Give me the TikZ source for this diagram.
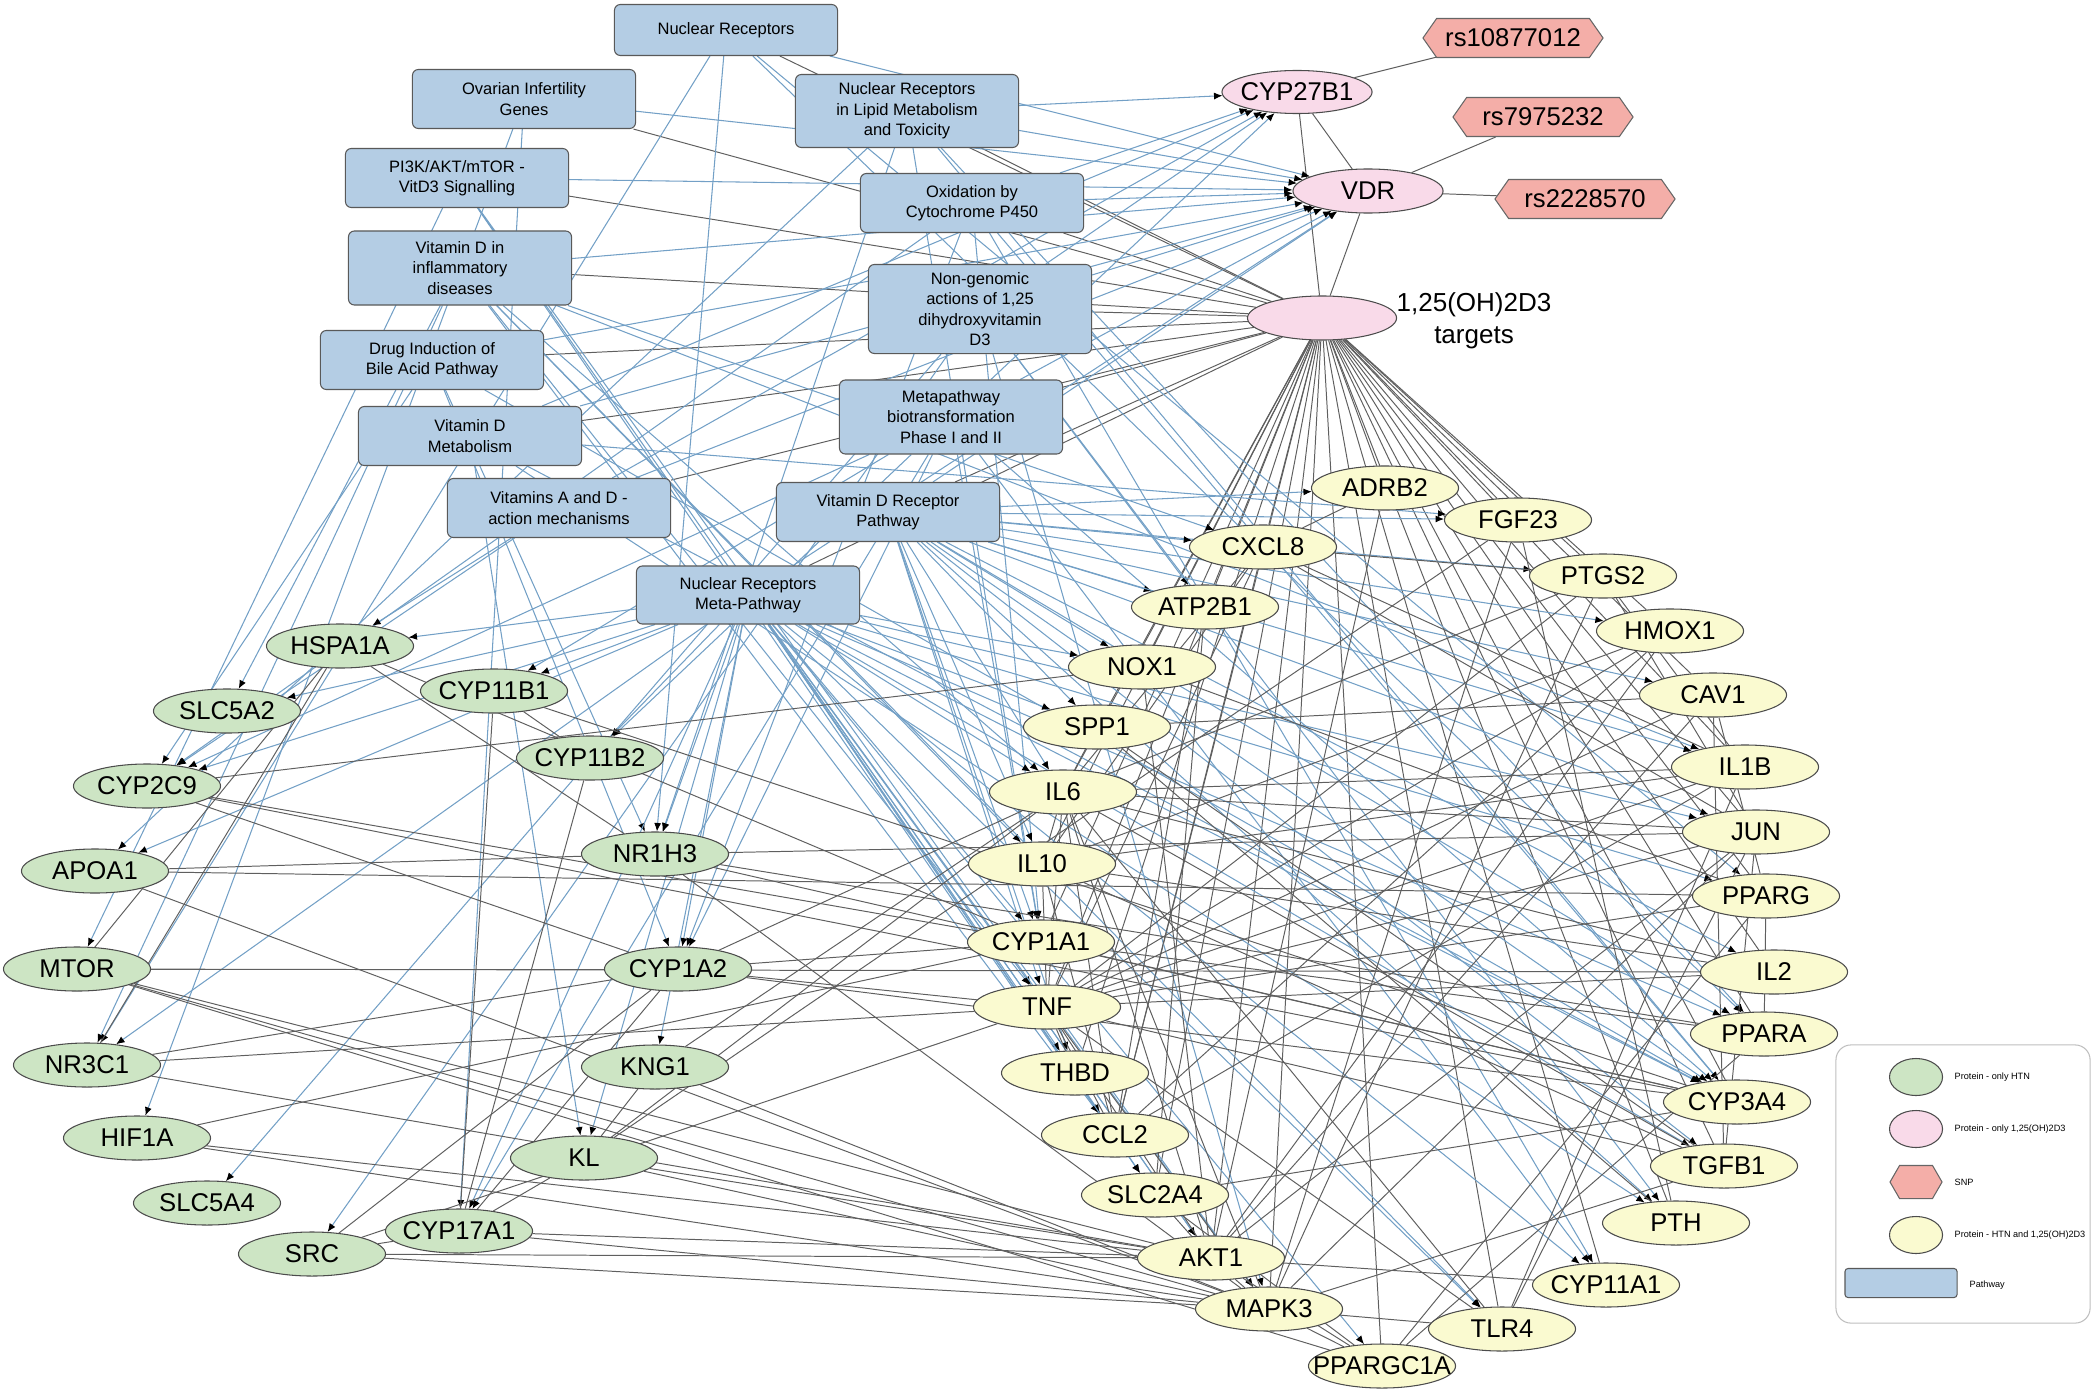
\documentclass[tikz,border=0pt]{standalone}
\usepackage{fontspec}
\setmainfont{Liberation Sans}
\usetikzlibrary{shapes.geometric,shapes.symbols,arrows.meta,backgrounds}

\definecolor{pwblue}{RGB}{180,205,228}
\definecolor{htngreen}{RGB}{205,229,196}
\definecolor{vitdpink}{RGB}{249,218,233}
\definecolor{bothyellow}{RGB}{250,250,208}
\definecolor{snpred}{RGB}{244,174,168}
\definecolor{linkblue}{RGB}{115,160,198}
\definecolor{linkgray}{RGB}{95,95,95}

\newcommand{\genefont}{\fontsize{7.3}{8.5}\selectfont}
\newcommand{\pwfont}{\fontsize{4.7}{5.8}\selectfont}
\newcommand{\keyfont}{\fontsize{2.6}{3.1}\selectfont}

\tikzset{
  gene/.style={ellipse, draw=black!70, line width=0.3pt, minimum width=1.47cm, minimum height=0.44cm,
    inner sep=0pt, font=\genefont,
    execute at begin node={\hbox to 0pt\bgroup\hss}, execute at end node={\hss\egroup}},
  htn/.style={gene, fill=htngreen},
  both/.style={gene, fill=bothyellow},
  vitd/.style={gene, fill=vitdpink},
  snp/.style={shape=signal, signal to=east and west, signal pointer angle=110, draw=black!60,
    line width=0.3pt, fill=snpred, minimum width=1.8cm, minimum height=0.39cm, inner sep=0pt, font=\genefont,
    execute at begin node={\hbox to 0pt\bgroup\hss}, execute at end node={\hss\egroup}},
  pathway/.style={rectangle, rounded corners=0.06cm, draw=black!65, line width=0.3pt, fill=pwblue,
    minimum width=2.23cm, minimum height=0.59cm, align=center, font=\pwfont, inner sep=1pt},
  ppi/.style={draw=linkgray, line width=0.28pt},
  pwlink/.style={draw=linkblue, line width=0.3pt, -{Latex[length=2.4pt,width=2pt,black]}},
}

\begin{document}
\begin{tikzpicture}[x=0.01cm,y=-0.01cm]
\useasboundingbox (0,0) rectangle (2092,1394);

%% pathways
\node[pathway, minimum height=0.51cm] (nr) at (726,30) {Nuclear Receptors};
\node[pathway] (ovar) at (524,99) {Ovarian Infertility\\Genes};
\node[pathway, minimum height=0.73cm] (lipid) at (907,111) {Nuclear Receptors\\in Lipid Metabolism\\and Toxicity};
\node[pathway] (pik) at (457,178) {PI3K/AKT/mTOR -\\VitD3 Signalling};
\node[pathway] (oxid) at (972,203) {Oxidation by\\Cytochrome P450};
\node[pathway, minimum height=0.74cm] (infl) at (460,268) {Vitamin D in\\inflammatory\\diseases};
\node[pathway, minimum height=0.89cm] (nongen) at (980,309) {Non-genomic\\actions of 1,25\\dihydroxyvitamin\\D3};
\node[pathway] (bile) at (432,360) {Drug Induction of\\Bile Acid Pathway};
\node[pathway, minimum height=0.74cm] (meta) at (951,417) {Metapathway\\biotransformation\\Phase I and II};
\node[pathway] (vdmet) at (470,436) {Vitamin D\\Metabolism};
\node[pathway] (vitad) at (559,508) {Vitamins A and D -\\action mechanisms};
\node[pathway] (vdrpw) at (888,512) {Vitamin D Receptor\\Pathway};
\node[pathway, minimum height=0.58cm] (nrmeta) at (748,595) {Nuclear Receptors\\Meta-Pathway};

%% vitamin D proteins and SNPs
\node[vitd, minimum width=1.5cm, minimum height=0.43cm] (CYP27B1) at (1297,92) {CYP27B1};
\node[vitd, minimum width=1.5cm] (VDR) at (1368,191) {VDR};
\node[vitd, minimum width=1.49cm] (tg) at (1322,318) {};
\node[font=\fontsize{7.4}{9.1}\selectfont, align=center] (tglabel) at (1474,321) {1,25(OH)2D3\\targets};
\node[snp] (rs10877012) at (1513,38) {rs10877012};
\node[snp] (rs7975232) at (1543,117) {rs7975232};
\node[snp] (rs2228570) at (1585,199) {rs2228570};

%% proteins - only HTN
\node[htn] (HSPA1A) at (340,646) {HSPA1A};
\node[htn] (SLC5A2) at (227,711) {SLC5A2};
\node[htn] (CYP11B1) at (494,691) {CYP11B1};
\node[htn] (CYP11B2) at (590,758) {CYP11B2};
\node[htn] (CYP2C9) at (147,786) {CYP2C9};
\node[htn] (NR1H3) at (655,854) {NR1H3};
\node[htn] (APOA1) at (95,871) {APOA1};
\node[htn] (MTOR) at (77,969) {MTOR};
\node[htn] (CYP1A2) at (678,969) {CYP1A2};
\node[htn] (NR3C1) at (87,1065) {NR3C1};
\node[htn] (KNG1) at (655,1067) {KNG1};
\node[htn] (HIF1A) at (137,1138) {HIF1A};
\node[htn] (KL) at (584,1158) {KL};
\node[htn] (SLC5A4) at (207,1203) {SLC5A4};
\node[htn] (SRC) at (312,1254) {SRC};
\node[htn] (CYP17A1) at (459,1231) {CYP17A1};

%% proteins - HTN and 1,25(OH)2D3
\node[both] (ADRB2) at (1385,488) {ADRB2};
\node[both] (FGF23) at (1518,520) {FGF23};
\node[both] (CXCL8) at (1263,547) {CXCL8};
\node[both] (PTGS2) at (1603,576) {PTGS2};
\node[both] (ATP2B1) at (1205,607) {ATP2B1};
\node[both] (HMOX1) at (1670,631) {HMOX1};
\node[both] (NOX1) at (1142,667) {NOX1};
\node[both] (CAV1) at (1713,695) {CAV1};
\node[both] (SPP1) at (1097,727) {SPP1};
\node[both] (IL1B) at (1745,767) {IL1B};
\node[both] (IL6) at (1063,792) {IL6};
\node[both] (JUN) at (1756,832) {JUN};
\node[both] (IL10) at (1042,864) {IL10};
\node[both] (PPARG) at (1766,896) {PPARG};
\node[both] (CYP1A1) at (1041,942) {CYP1A1};
\node[both] (IL2) at (1774,972) {IL2};
\node[both] (TNF) at (1047,1007) {TNF};
\node[both] (PPARA) at (1764,1034) {PPARA};
\node[both] (THBD) at (1075,1073) {THBD};
\node[both] (CYP3A4) at (1737,1102) {CYP3A4};
\node[both] (CCL2) at (1115,1135) {CCL2};
\node[both] (TGFB1) at (1724,1166) {TGFB1};
\node[both] (SLC2A4) at (1155,1195) {SLC2A4};
\node[both] (PTH) at (1676,1223) {PTH};
\node[both] (AKT1) at (1211,1258) {AKT1};
\node[both] (CYP11A1) at (1606,1285) {CYP11A1};
\node[both] (MAPK3) at (1269,1309) {MAPK3};
\node[both] (TLR4) at (1502,1329) {TLR4};
\node[both] (PPARGC1A) at (1382,1366) {PPARGC1A};

\begin{scope}[on background layer]
% targets and vitamin D core
\path[ppi] (tg) edge (ADRB2) edge (FGF23) edge (CXCL8) edge (PTGS2) edge (ATP2B1) edge (HMOX1)
  edge (NOX1) edge (CAV1) edge (SPP1) edge (IL1B) edge (IL6) edge (JUN) edge (IL10) edge (PPARG)
  edge (CYP1A1) edge (IL2) edge (TNF) edge (PPARA) edge (THBD) edge (CYP3A4) edge (CCL2) edge (TGFB1)
  edge (SLC2A4) edge (PTH) edge (AKT1) edge (CYP11A1) edge (MAPK3) edge (TLR4) edge (PPARGC1A);
\path[ppi] (tg) edge (nr) edge (ovar) edge (lipid) edge (pik) edge (oxid) edge (infl) edge (nongen)
  edge (bile) edge (meta) edge (vdmet) edge (vitad) edge (vdrpw) edge (nrmeta);
\path[ppi] (tg) edge (VDR) edge (CYP27B1) (CYP27B1) edge (VDR) edge (rs10877012)
  (VDR) edge (rs7975232) edge (rs2228570);

% pathway members
\path[pwlink] (nr) edge (VDR) edge (NR1H3) edge (NR3C1) edge (PPARA) edge (PPARG);
\path[pwlink] (ovar) edge (VDR) edge (CYP17A1) edge (HIF1A);
\path[pwlink] (lipid) edge (CYP27B1) edge (VDR) edge (NR1H3) edge (PPARA) edge (CYP1A1) edge (CYP3A4) edge (APOA1);
\path[pwlink] (pik) edge (VDR) edge (MTOR) edge (AKT1) edge (MAPK3) edge (SLC2A4);
\path[pwlink] (oxid) edge (CYP27B1) edge (VDR) edge (CYP1A1) edge (CYP1A2) edge (CYP3A4) edge (CYP2C9) edge (CYP11A1);
\path[pwlink] (infl) edge (VDR) edge (TNF) edge (IL6) edge (IL10) edge (IL1B) edge (CXCL8) edge (TLR4)
  edge (NR3C1) edge (SLC5A2) edge (CCL2);
\path[pwlink] (nongen) edge (VDR) edge (CYP27B1) edge (MAPK3) edge (SRC) edge (ATP2B1) edge (PTH) edge (SLC5A4);
\path[pwlink] (bile) edge (VDR) edge (CYP3A4) edge (CYP2C9) edge (CYP1A2) edge (NR1H3);
\path[pwlink] (meta) edge (VDR) edge (CYP27B1) edge (CYP1A1) edge (CYP1A2) edge (CYP2C9) edge (CYP3A4)
  edge (CYP11B1) edge (CYP11B2) edge (CYP17A1) edge (CYP11A1);
\path[pwlink] (vdmet) edge (VDR) edge (CYP27B1) edge (CYP3A4) edge (PTH) edge (FGF23) edge (KL);
\path[pwlink] (vitad) edge (VDR) edge (CYP27B1) edge (HSPA1A) edge (CYP2C9);
\path[pwlink] (vdrpw) edge (VDR) edge (ADRB2) edge (FGF23) edge (PTGS2) edge (HMOX1) edge (ATP2B1)
  edge (CAV1) edge (IL1B) edge (JUN) edge (SPP1) edge (CYP3A4) edge (TGFB1) edge (PTH) edge (CXCL8)
  edge (NOX1) edge (IL6) edge (IL10) edge (CYP1A1) edge (IL2) edge (TNF) edge (PPARA) edge (THBD);
\path[pwlink] (nrmeta) edge (VDR) edge (HSPA1A) edge (SLC5A2) edge (CYP11B1) edge (CYP11B2) edge (CYP2C9)
  edge (NR1H3) edge (CYP1A2) edge (CYP1A1) edge (TNF) edge (THBD) edge (CCL2) edge (SLC2A4) edge (AKT1)
  edge (CYP3A4) edge (PPARA) edge (PPARG) edge (NOX1) edge (SPP1) edge (IL6) edge (KNG1) edge (KL)
  edge (CYP17A1) edge (NR3C1) edge (APOA1) edge (TGFB1) edge (TLR4) edge (PPARGC1A) edge (CYP11A1)
  edge (JUN) edge (MAPK3);

% protein interactions, HTN side
\path[ppi] (HSPA1A) edge (CYP1A1) edge (NR1H3) edge (MTOR) edge (NR3C1);
\path[ppi] (CYP11B1) edge (CYP11B2) edge (CYP17A1) edge (CYP3A4);
\path[ppi] (CYP11B2) edge (CYP17A1);
\path[ppi] (CYP2C9) edge (CYP1A2) edge (CYP3A4) edge (CYP1A1) edge (NOX1);
\path[ppi] (NR1H3) edge (APOA1) edge (JUN) edge (PPARA) edge (MAPK3) edge (CYP3A4);
\path[ppi] (APOA1) edge (PPARG) edge (MAPK3);
\path[ppi] (MTOR) edge (CYP1A2) edge (IL2) edge (AKT1) edge (MAPK3) edge (PPARGC1A);
\path[ppi] (CYP1A2) edge (CYP1A1) edge (CYP3A4) edge (NR3C1) edge (CYP17A1) edge (TNF) edge (IL6) edge (SRC);
\path[ppi] (NR3C1) edge (TNF) edge (AKT1);
\path[ppi] (KNG1) edge (KL) edge (MAPK3) edge (IL6);
\path[ppi] (HIF1A) edge (CYP1A1) edge (AKT1) edge (MAPK3);
\path[ppi] (KL) edge (FGF23) edge (AKT1) edge (MAPK3) edge (CYP17A1) edge (IL6);
\path[ppi] (SRC) edge (AKT1) edge (MAPK3) edge (CYP17A1) edge (TNF);
\path[ppi] (CYP17A1) edge (AKT1) edge (MAPK3);

% protein interactions, shared side
\path[ppi] (CXCL8) edge (IL6) edge (TNF) edge (IL1B) edge (IL10) edge (CCL2) edge (JUN) edge (PTGS2) edge (ADRB2);
\path[ppi] (IL6) edge (TNF) edge (IL10) edge (IL1B) edge (JUN) edge (IL2) edge (CCL2) edge (TLR4)
  edge (AKT1) edge (MAPK3) edge (SPP1) edge (PTGS2) edge (TGFB1);
\path[ppi] (TNF) edge (IL10) edge (IL1B) edge (IL2) edge (CCL2) edge (TLR4) edge (PPARG) edge (JUN)
  edge (PTGS2) edge (HMOX1) edge (CAV1) edge (TGFB1) edge (MAPK3) edge (AKT1) edge (THBD);
\path[ppi] (IL10) edge (IL1B) edge (IL2) edge (TGFB1) edge (HMOX1) edge (CCL2);
\path[ppi] (IL1B) edge (PTGS2) edge (CCL2) edge (TLR4);
\path[ppi] (JUN) edge (MAPK3) edge (AKT1) edge (PTGS2) edge (TGFB1) edge (TLR4);
\path[ppi] (PPARG) edge (PPARA) edge (PPARGC1A) edge (CAV1) edge (NOX1);
\path[ppi] (PPARA) edge (PPARGC1A) edge (CYP1A1);
\path[ppi] (CYP3A4) edge (CYP1A1) edge (SLC2A4);
\path[ppi] (AKT1) edge (MAPK3) edge (SLC2A4) edge (PPARGC1A) edge (HMOX1) edge (CAV1) edge (NOX1)
  edge (CYP11A1) edge (ADRB2);
\path[ppi] (MAPK3) edge (TLR4) edge (PTGS2) edge (PPARGC1A) edge (FGF23) edge (TGFB1);
\path[ppi] (FGF23) edge (PTH);
\path[ppi] (SPP1) edge (CAV1) edge (PTH);
\path[ppi] (TGFB1) edge (CAV1) edge (SPP1);
\path[ppi] (CCL2) edge (HMOX1) edge (ATP2B1);
\path[ppi] (SLC2A4) edge (PPARGC1A) edge (ATP2B1);
\end{scope}

%% legend
\node[draw=black!25, line width=0.3pt, rounded corners=0.15cm, minimum width=2.54cm, minimum height=2.78cm] (key) at (1963,1184) {};
\node[htn, minimum width=0.53cm, minimum height=0.37cm] (keyhtn) at (1916,1077) {};
\node[vitd, minimum width=0.53cm, minimum height=0.37cm] (keyvitd) at (1916,1129) {};
\node[snp, minimum width=0.52cm, minimum height=0.33cm, signal pointer angle=120] (keysnp) at (1916,1182) {};
\node[both, minimum width=0.53cm, minimum height=0.37cm] (keyboth) at (1916,1235) {};
\node[pathway, minimum width=1.12cm, minimum height=0.29cm, rounded corners=0.03cm] (keypw) at (1901,1283) {};
\node[anchor=west, font=\keyfont, inner sep=0pt] (keyhtntxt) at (1954,1077) {Protein - only HTN};
\node[anchor=west, font=\keyfont, inner sep=0pt] (keyvitdtxt) at (1954,1129) {Protein - only 1,25(OH)2D3};
\node[anchor=west, font=\keyfont, inner sep=0pt] (keysnptxt) at (1954,1182) {SNP};
\node[anchor=west, font=\keyfont, inner sep=0pt] (keybothtxt) at (1954,1235) {Protein - HTN and 1,25(OH)2D3};
\node[anchor=west, font=\keyfont, inner sep=0pt] (keypwtxt) at (1969,1285) {Pathway};

\end{tikzpicture}
\end{document}
